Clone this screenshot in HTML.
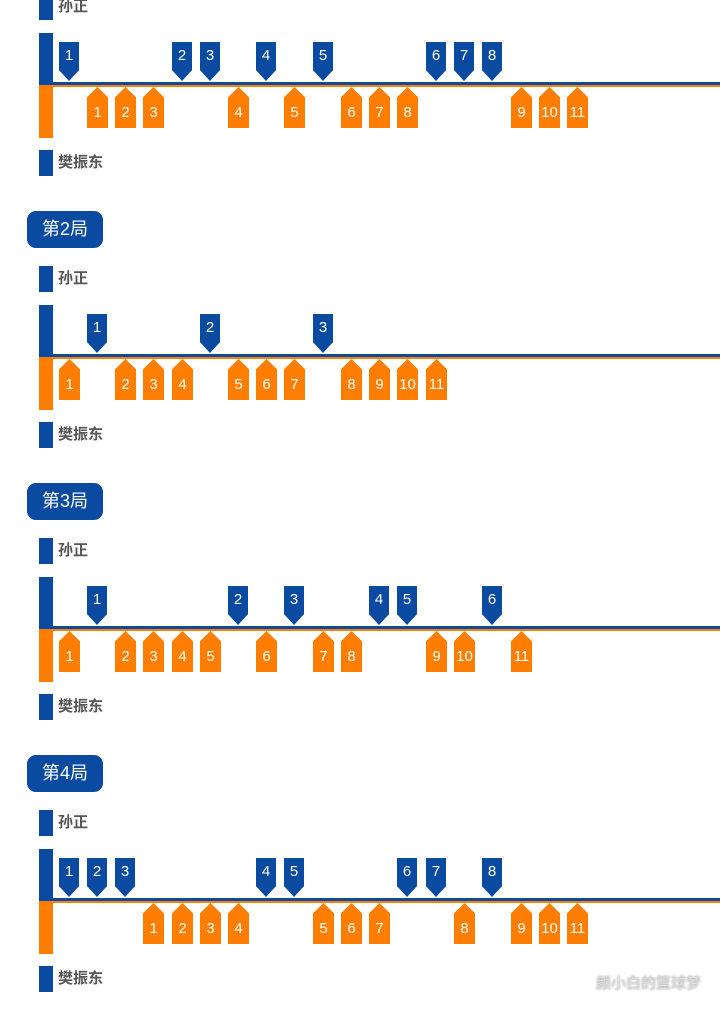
<!DOCTYPE html>
<html><head><meta charset="utf-8"><style>
*{margin:0;padding:0;box-sizing:border-box}
body{width:720px;height:1002px;background:#fff;position:relative;overflow:hidden;font-family:"Liberation Sans","Noto Sans CJK SC",sans-serif}
.s{position:absolute;left:0;width:720px;height:272px}
.h{position:absolute;left:27px;top:0;width:76px;height:37px;background:#0a4aa0;border-radius:9px;color:#fff;font-size:18px;line-height:37px;text-align:center}
.lb{position:absolute;left:39px;width:14px;height:26px;background:#0a4aa0}
.lt{position:absolute;left:58px;font-size:15px;font-weight:bold;color:#555;line-height:26px}
.bb{position:absolute;left:39px;top:94px;width:14px;height:52px;background:#0a4aa0}
.ob{position:absolute;left:39px;top:146px;width:14px;height:53px;background:#ff7d00}
.bl{position:absolute;left:53px;top:143px;width:667px;height:3px;background:#0a4aa0}
.ol{position:absolute;left:53px;top:146px;width:667px;height:2px;background:#ff7d00}
.b,.o{position:absolute;color:#fff;font-size:15px;text-align:center}
.b{top:103px;width:20px;height:39px;background:#0a4aa0;clip-path:polygon(0 0,100% 0,100% 72%,50% 100%,0 72%);line-height:28px}
.o{top:148px;width:21px;height:41px;background:#ff7d00;clip-path:polygon(50% 0,100% 25%,100% 100%,0 100%,0 25%);line-height:52px}
.wm{position:absolute;left:596px;top:972px;font-size:15px;color:#ddd;text-shadow:0 0 2px #888}
</style></head><body>

<div class="s" style="top:-61px">
<div class="lb" style="top:55px"></div><div class="lt" style="top:55px">孙正</div>
<div class="bb"></div><div class="ob"></div><div class="bl"></div><div class="ol"></div>
<div class="b" style="left:59px">1</div><div class="b" style="left:172px">2</div><div class="b" style="left:200px">3</div><div class="b" style="left:256px">4</div><div class="b" style="left:313px">5</div><div class="b" style="left:426px">6</div><div class="b" style="left:454px">7</div><div class="b" style="left:482px">8</div>
<div class="o" style="left:87px">1</div><div class="o" style="left:115px">2</div><div class="o" style="left:143px">3</div><div class="o" style="left:228px">4</div><div class="o" style="left:284px">5</div><div class="o" style="left:341px">6</div><div class="o" style="left:369px">7</div><div class="o" style="left:397px">8</div><div class="o" style="left:511px">9</div><div class="o" style="left:539px">10</div><div class="o" style="left:567px">11</div>
<div class="lb" style="top:211px"></div><div class="lt" style="top:211px">樊振东</div>
</div>

<div class="s" style="top:211px">
<div class="h">第2局</div>
<div class="lb" style="top:55px"></div><div class="lt" style="top:55px">孙正</div>
<div class="bb"></div><div class="ob"></div><div class="bl"></div><div class="ol"></div>
<div class="b" style="left:87px">1</div><div class="b" style="left:200px">2</div><div class="b" style="left:313px">3</div>
<div class="o" style="left:59px">1</div><div class="o" style="left:115px">2</div><div class="o" style="left:143px">3</div><div class="o" style="left:172px">4</div><div class="o" style="left:228px">5</div><div class="o" style="left:256px">6</div><div class="o" style="left:284px">7</div><div class="o" style="left:341px">8</div><div class="o" style="left:369px">9</div><div class="o" style="left:397px">10</div><div class="o" style="left:426px">11</div>
<div class="lb" style="top:211px"></div><div class="lt" style="top:211px">樊振东</div>
</div>

<div class="s" style="top:483px">
<div class="h">第3局</div>
<div class="lb" style="top:55px"></div><div class="lt" style="top:55px">孙正</div>
<div class="bb"></div><div class="ob"></div><div class="bl"></div><div class="ol"></div>
<div class="b" style="left:87px">1</div><div class="b" style="left:228px">2</div><div class="b" style="left:284px">3</div><div class="b" style="left:369px">4</div><div class="b" style="left:397px">5</div><div class="b" style="left:482px">6</div>
<div class="o" style="left:59px">1</div><div class="o" style="left:115px">2</div><div class="o" style="left:143px">3</div><div class="o" style="left:172px">4</div><div class="o" style="left:200px">5</div><div class="o" style="left:256px">6</div><div class="o" style="left:313px">7</div><div class="o" style="left:341px">8</div><div class="o" style="left:426px">9</div><div class="o" style="left:454px">10</div><div class="o" style="left:511px">11</div>
<div class="lb" style="top:211px"></div><div class="lt" style="top:211px">樊振东</div>
</div>

<div class="s" style="top:755px">
<div class="h">第4局</div>
<div class="lb" style="top:55px"></div><div class="lt" style="top:55px">孙正</div>
<div class="bb"></div><div class="ob"></div><div class="bl"></div><div class="ol"></div>
<div class="b" style="left:59px">1</div><div class="b" style="left:87px">2</div><div class="b" style="left:115px">3</div><div class="b" style="left:256px">4</div><div class="b" style="left:284px">5</div><div class="b" style="left:397px">6</div><div class="b" style="left:426px">7</div><div class="b" style="left:482px">8</div>
<div class="o" style="left:143px">1</div><div class="o" style="left:172px">2</div><div class="o" style="left:200px">3</div><div class="o" style="left:228px">4</div><div class="o" style="left:313px">5</div><div class="o" style="left:341px">6</div><div class="o" style="left:369px">7</div><div class="o" style="left:454px">8</div><div class="o" style="left:511px">9</div><div class="o" style="left:539px">10</div><div class="o" style="left:567px">11</div>
<div class="lb" style="top:211px"></div><div class="lt" style="top:211px">樊振东</div>
</div>

<div class="wm">颜小白的篮球梦</div>
</body></html>
